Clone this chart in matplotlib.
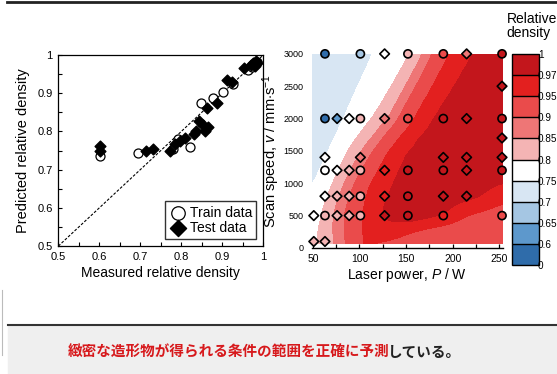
import numpy as np
import matplotlib
matplotlib.use("Agg")
import matplotlib.pyplot as plt
from matplotlib.colors import ListedColormap, BoundaryNorm
from matplotlib.lines import Line2D
from matplotlib.patches import Rectangle

plt.rcParams['font.family'] = ['Liberation Sans', 'DejaVu Sans']
plt.rcParams['mathtext.fontset'] = 'custom'
plt.rcParams['mathtext.rm'] = 'Liberation Sans'
plt.rcParams['mathtext.it'] = 'Liberation Sans:italic'

########## left panel : measured vs predicted
train_measured = [0.602, 0.695, 0.779, 0.793, 0.820, 0.847, 0.878, 0.902, 0.925, 0.963,
                  0.972, 0.977, 0.981, 0.984, 0.979]
train_predicted = [0.736, 0.744, 0.755, 0.780, 0.760, 0.875, 0.888, 0.903, 0.923, 0.961,
                   0.968, 0.974, 0.979, 0.982, 0.977]
test_measured = [0.602, 0.602, 0.715, 0.730, 0.772, 0.785, 0.797, 0.809, 0.831, 0.837,
                 0.844, 0.852, 0.858, 0.866, 0.862, 0.886, 0.912, 0.923, 0.953,
                 0.970, 0.976, 0.981, 0.985, 0.980]
test_predicted = [0.762, 0.749, 0.749, 0.755, 0.750, 0.766, 0.775, 0.784, 0.792, 0.801,
                  0.827, 0.818, 0.801, 0.812, 0.860, 0.875, 0.935, 0.928, 0.965,
                  0.975, 0.980, 0.985, 0.978, 0.970]

########## right panel : process map
levels = [0, 0.6, 0.65, 0.7, 0.75, 0.8, 0.85, 0.9, 0.95, 0.97, 1]
level_labels = ['0', '0.6', '0.65', '0.7', '0.75', '0.8', '0.85', '0.9', '0.95', '0.97', '1']
level_colors = ['#2f6caa', '#5d98cc', '#a5c6e3', '#d8e6f3', '#ffffff',
                '#f4b4b4', '#ee7676', '#ea4b4b', '#e3201f', '#c3161c']

# density read along rows of the map (scan speed) at several laser powers
map_speed = [70, 300, 500, 750, 1000, 1250, 1500, 1750, 2000, 2250, 2500, 2750, 3000]
map_knots_power = [
    [49, 55, 73, 84, 100, 106, 112, 254],
    [49, 57, 72, 83, 100, 130, 164, 254],
    [49, 60, 72, 82, 100, 122, 155, 192, 214, 254],
    [49, 65, 77, 87, 104, 126, 175, 229, 254],
    [49, 53, 72, 84, 93, 108, 133, 200, 254],
    [49, 61, 80, 93, 103, 118, 139, 254],
    [49, 69, 88, 103, 113, 128, 145, 254],
    [49, 77, 101, 117, 126, 142, 160, 254],
    [49, 85, 115, 132, 140, 156, 175, 254],
    [49, 92, 126, 141, 149, 165, 186, 254],
    [49, 100, 137, 150, 159, 175, 198, 254],
    [49, 108, 147, 159, 168, 184, 209, 254],
    [49, 116, 158, 168, 177, 193, 220, 254],
]
map_knots_density = [
    [0.79, 0.80, 0.85, 0.90, 0.95, 0.953, 0.95, 0.915],
    [0.785, 0.80, 0.85, 0.90, 0.95, 0.966, 0.95, 0.925],
    [0.775, 0.80, 0.85, 0.90, 0.95, 0.97, 0.985, 0.97, 0.95, 0.935],
    [0.765, 0.80, 0.85, 0.90, 0.95, 0.97, 0.982, 0.97, 0.955],
    [0.745, 0.75, 0.80, 0.85, 0.90, 0.95, 0.97, 0.982, 0.971],
    [0.738, 0.75, 0.80, 0.85, 0.90, 0.95, 0.97, 0.978],
    [0.73, 0.75, 0.80, 0.85, 0.90, 0.95, 0.97, 0.982],
    [0.725, 0.75, 0.80, 0.85, 0.90, 0.95, 0.97, 0.984],
    [0.72, 0.75, 0.80, 0.85, 0.90, 0.95, 0.97, 0.985],
    [0.718, 0.75, 0.80, 0.85, 0.90, 0.95, 0.97, 0.985],
    [0.715, 0.75, 0.80, 0.85, 0.90, 0.95, 0.97, 0.985],
    [0.712, 0.75, 0.80, 0.85, 0.90, 0.95, 0.97, 0.985],
    [0.71, 0.75, 0.80, 0.85, 0.90, 0.95, 0.97, 0.985],
]

# experimental points (o = train, D = test)
pts_power = [63, 101, 127, 152, 190, 215, 253,
             253,
             63, 76, 89, 101, 127, 152, 190, 215, 253,
             253,
             63, 101, 190, 215, 253,
             63, 76, 89, 101, 127, 152, 190, 215, 253,
             63, 76, 89, 101, 127, 152, 190, 215,
             51, 63, 76, 89, 101, 127, 152, 190, 253,
             51, 63]
pts_speed = [3000] * 7 + [2500] + [2000] * 9 + [1700] + [1400] * 5 + [1200] * 9 + \
            [800] * 8 + [500] * 9 + [100] * 2
pts_density = [0.58, 0.68, 0.77, 0.83, 0.92, 0.88, 0.98,
               0.975,
               0.58, 0.61, 0.77, 0.82, 0.88, 0.93, 0.97, 0.975, 0.98,
               0.98,
               0.77, 0.86, 0.975, 0.975, 0.98,
               0.76, 0.77, 0.83, 0.82, 0.95, 0.975, 0.98, 0.98, 0.975,
               0.77, 0.83, 0.84, 0.83, 0.96, 0.975, 0.98, 0.975,
               0.77, 0.82, 0.84, 0.84, 0.83, 0.975, 0.975, 0.95, 0.93,
               0.82, 0.83]
pts_kind = ['o', 'o', 'D', 'o', 'o', 'D', 'o',
            'D',
            'o', 'D', 'D', 'o', 'D', 'o', 'o', 'D', 'o',
            'D',
            'D', 'D', 'D', 'D', 'D',
            'o', 'D', 'D', 'o', 'D', 'o', 'o', 'D', 'o',
            'D', 'D', 'D', 'o', 'D', 'o', 'D', 'D',
            'D', 'o', 'D', 'D', 'o', 'D', 'o', 'o', 'o',
            'D', 'D']

caption_red = '緻密な造形物が得られる条件の範囲を正確に予測'
caption_black = 'している。'


def smooth(a, axis, sigma):
    # gaussian blur along one axis, edges padded with their own values
    r = int(3 * sigma)
    k = np.exp(-0.5 * (np.arange(-r, r + 1) / sigma) ** 2)
    k /= k.sum()

    def f(line):
        padded = np.concatenate([np.full(r, line[0]), line, np.full(r, line[-1])])
        return np.convolve(padded, k, mode='valid')
    return np.apply_along_axis(f, axis, a)


fig = plt.figure(figsize=(5.57, 3.74), dpi=100)

########## left panel
ax1 = fig.add_axes([0.1047, 0.342, 0.368, 0.511])
ax1.plot([0.5, 1], [0.5, 1], 'k--', lw=0.8, dashes=(2.5, 1.5))
ax1.scatter(train_measured, train_predicted, s=42, facecolors='white', edgecolors='black',
            linewidths=0.9, marker='o', zorder=3, clip_on=False, label='Train data')
ax1.scatter(test_measured, test_predicted, s=30, color='black', marker='D', zorder=4,
            clip_on=False, label='Test data')
ax1.set_xlim(0.5, 1)
ax1.set_ylim(0.5, 1)
ticks = [0.5, 0.6, 0.7, 0.8, 0.9, 1.0]
tick_labels = ['0.5', '0.6', '0.7', '0.8', '0.9', '1']
ax1.set_xticks(ticks)
ax1.set_xticklabels(tick_labels)
ax1.set_yticks(ticks)
ax1.set_yticklabels(tick_labels)
ax1.set_xticks(np.arange(0.55, 1.0, 0.1), minor=True)
ax1.set_yticks(np.arange(0.55, 1.0, 0.1), minor=True)
ax1.tick_params(which='both', direction='in', length=3, width=0.8, labelsize=8, pad=4)
for s in ax1.spines.values():
    s.set_linewidth(0.9)
ax1.set_xlabel('Measured relative density', fontsize=10, labelpad=3)
ax1.set_ylabel('Predicted relative density', fontsize=10.5, labelpad=5)
leg = ax1.legend(loc='lower right', fontsize=10, frameon=True, fancybox=False,
                 edgecolor='black', handletextpad=0.2, borderpad=0.3, labelspacing=0.1,
                 handlelength=1.3, borderaxespad=0.5, markerscale=1.5)
leg.get_frame().set_linewidth(1.0)

########## right panel
cmap = ListedColormap(level_colors)
norm = BoundaryNorm(levels, cmap.N)

ax2 = fig.add_axes([0.560, 0.337, 0.343, 0.519])
P_fine = np.linspace(49, 254, 206)
rows = np.array([np.interp(P_fine, kp, kd) for kp, kd in zip(map_knots_power, map_knots_density)])
v_fine = np.linspace(map_speed[0], map_speed[-1], 300)
field = np.array([np.interp(v_fine, map_speed, rows[:, j]) for j in range(len(P_fine))]).T
field = smooth(smooth(field, 1, 5), 0, 8)
cs = ax2.contourf(P_fine, v_fine, field, levels=levels, cmap=cmap, norm=norm)

pts_power = np.array(pts_power)
pts_speed = np.array(pts_speed)
pts_density = np.array(pts_density)
pts_kind = np.array(pts_kind)
for mk, size in [('o', 34), ('D', 24)]:
    sel = pts_kind == mk
    ax2.scatter(pts_power[sel], pts_speed[sel], c=pts_density[sel], cmap=cmap, norm=norm,
                marker=mk, s=size, edgecolors='black', linewidths=1.2, zorder=3, clip_on=False)

ax2.set_xlim(49, 254)
ax2.set_ylim(0, 3000)
ax2.set_xticks([50, 100, 150, 200, 250])
ax2.set_xticks([75, 125, 175, 225], minor=True)
ax2.set_yticks(range(0, 3001, 500))
for side in ['left', 'top', 'right']:
    ax2.spines[side].set_visible(False)
ax2.spines['bottom'].set_linewidth(1.0)
ax2.tick_params(axis='x', which='both', direction='in', length=3, width=0.9, labelsize=7.5, pad=4)
ax2.tick_params(axis='y', length=0, labelsize=6.5, pad=6)
ax2.set_xlabel(r'Laser power, $\it{P}$ / W', fontsize=10, labelpad=2)
ax2.set_ylabel(r'Scan speed, $\it{v}$ / mm$\cdot$s$^{-1}$', fontsize=10.5, labelpad=1)

cax = fig.add_axes([0.919, 0.291, 0.049, 0.565])
cb = fig.colorbar(cs, cax=cax, ticks=levels, drawedges=True)
cb.ax.set_yticklabels(level_labels)
cb.ax.tick_params(length=0, labelsize=7.2, pad=-1)
cb.outline.set_linewidth(1.0)
cb.dividers.set_linewidth(1.0)
fig.text(0.910, 0.968, 'Relative\ndensity', fontsize=10, ha='left', va='top', linespacing=1.0)

########## frame and caption
fig.add_artist(Line2D([7 / 557, 1], [1 - 1.5 / 374] * 2, color='#222222', lw=2))
fig.add_artist(Rectangle((8 / 557, 0), 1, 1 - 326 / 374, transform=fig.transFigure,
                         color='#efefef', zorder=0))
fig.add_artist(Line2D([8 / 557, 1], [1 - 325 / 374] * 2, color='#333333', lw=1.5))
fig.add_artist(Line2D([1.5 / 557] * 2, [1 - 290 / 374, 1 - 355 / 374], color='#bbbbbb', lw=0.8))

t_red = fig.text(68 / 557, 1 - 352 / 374, caption_red, color='#d7191c', fontsize=10.5,
                 fontweight='bold', family=['Noto Sans CJK JP'], ha='left', va='center')
ax1.annotate(caption_black, xy=(1, 0.5), xycoords=t_red, xytext=(-1.5, 0),
             textcoords='offset points', color='#222222', fontsize=10.5,
             fontweight='bold', family=['Noto Sans CJK JP'], ha='left', va='center')

fig.savefig('out.png', dpi=100)
